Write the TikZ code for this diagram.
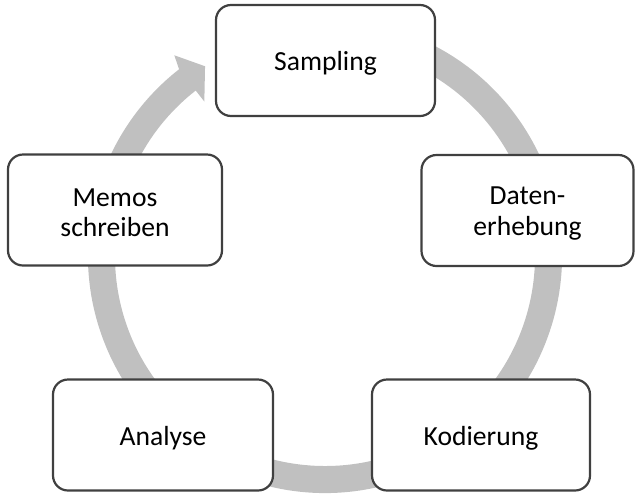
\documentclass[tikz,border=0pt]{standalone}
\usepackage{fontspec}
\setmainfont{Carlito}
\definecolor{bandgray}{RGB}{192,192,192}
\definecolor{edgegray}{RGB}{64,64,64}
\tikzset{
  stage/.style={draw=edgegray, line width=1.1pt, fill=white, rounded corners=7.5pt,
    minimum height=55.5pt, align=center, inner sep=2pt,
    font=\fontsize{13.8}{15.2}\selectfont},
  label shift/.style={yshift=-1.5pt}
}
\begin{document}
\begin{tikzpicture}[x=0.5pt,y=0.5pt]
  \useasboundingbox (0,0) rectangle (635,495);
  % circular block arrow behind the stages (centre of the cycle)
  \coordinate (hub) at (325,239);
  \begin{scope}[shift={(hub)}]
    \fill[bandgray] (70:237) arc[start angle=70, end angle=-232, radius=237]
      -- (-233.1:251) -- (-237.7:224.5) -- (-232:196) -- (-232:210)
      arc[start angle=-232, end angle=70, radius=210] -- cycle;
  \end{scope}
  % stages of the cycle (boxes, then their labels slightly below centre)
  \node[stage, minimum width=109.5pt] (sampling)  at (325.5,434.5) {};
  \node[stage, minimum width=106pt]   (daten)     at (527.5,284.5) {};
  \node[stage, minimum width=109pt]   (kodierung) at (481,60)      {};
  \node[stage, minimum width=110pt]   (analyse)   at (163,60)      {};
  \node[stage, minimum width=107pt]   (memos)     at (115,285)     {};
  \node[stage, draw=none, fill=none, label shift] at (sampling)  {Sampling};
  \node[stage, draw=none, fill=none, label shift] at (daten)     {Daten-\\erhebung};
  \node[stage, draw=none, fill=none, label shift] at (kodierung) {Kodierung};
  \node[stage, draw=none, fill=none, label shift] at (analyse)   {Analyse};
  \node[stage, draw=none, fill=none, label shift] at (memos)     {Memos\\schreiben};
\end{tikzpicture}
\end{document}
